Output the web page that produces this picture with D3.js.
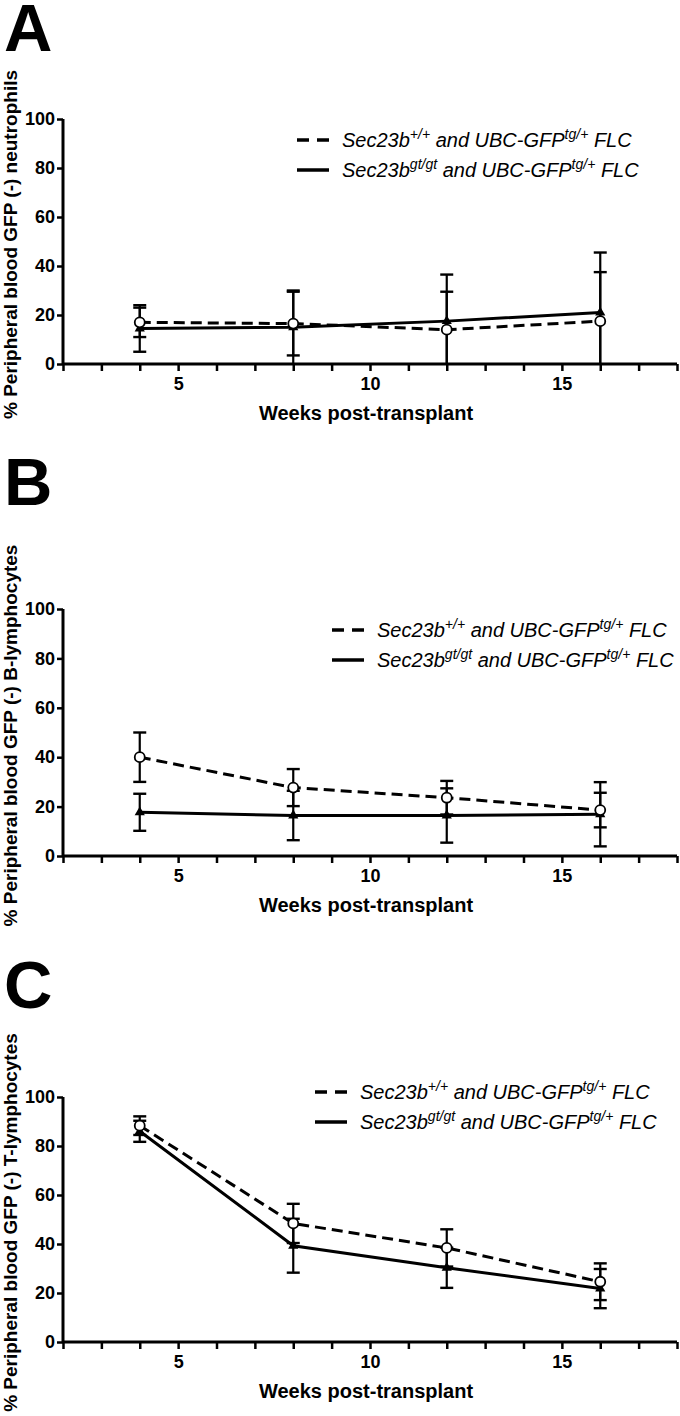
<!DOCTYPE html>
<html>
<head>
<meta charset="utf-8">
<script src="https://cdn.jsdelivr.net/npm/d3@7/dist/d3.min.js"></script>
<style>
  html, body { margin: 0; padding: 0; background: #fff; }
  svg { display: block; }
  text { font-family: "Liberation Sans", Arial, sans-serif; fill: #000; }
</style>
</head>
<body>
<svg id="chart" width="680" height="1416"></svg>
<script>
// ---- data ----
const weeks = [4, 8, 12, 16];
const xTicks = [5, 10, 15];
const yTicks = [0, 20, 40, 60, 80, 100];
const panelLetters = ["A", "B", "C"];
const yTitles = [
  "% Peripheral blood GFP (-) neutrophils",
  "% Peripheral blood GFP (-) B-lymphocytes",
  "% Peripheral blood GFP (-) T-lymphocytes"
];
const xTitle = "Weeks post-transplant";

// Sec23b+/+ (dashed, open circles)
const wtA = [17, 16.5, 14, 17.5];
const wtAErr = [6, 13, 15.5, 20];
const wtB = [40, 27.7, 23.6, 18.6];
const wtBErr = [10, 7.5, 6.8, 7];
const wtC = [88.3, 48.4, 38.4, 24.6];
const wtCErr = [3.8, 8, 7.6, 7.5];

// Sec23b gt/gt (solid, filled triangles)
const gtA = [14.5, 15, 17.5, 21];
const gtAErr = [9.5, 15, 19, 24.5];
const gtB = [17.7, 16.4, 16.4, 16.9];
const gtBErr = [7.5, 10, 11, 13];
const gtC = [86, 39.3, 30.3, 21.8];
const gtCErr = [4.3, 11, 8.2, 8];

const wtSeries = [[wtA, wtAErr], [wtB, wtBErr], [wtC, wtCErr]];
const gtSeries = [[gtA, gtAErr], [gtB, gtBErr], [gtC, gtCErr]];

// ---- layout ----
const panels = [
  { top: 119, bottom: 364, letterY: 51, legY: 140, legX: 297 },
  { top: 609, bottom: 856, letterY: 505, legY: 630, legX: 332 },
  { top: 1097, bottom: 1342, letterY: 1008, legY: 1092, legX: 315 }
];
const xLeft = 63, xRight = 677;

const svg = d3.select("#chart");

panels.forEach((p, i) => {
  const g = svg.append("g");
  const x = d3.scaleLinear().domain([2, 18]).range([xLeft, xRight]);
  const y = d3.scaleLinear().domain([0, 100]).range([p.bottom, p.top]);

  // panel letter
  g.append("text").attr("x", 4).attr("y", p.letterY)
    .attr("font-size", 67).attr("font-weight", "bold").text(panelLetters[i]);

  // x axis
  const xAxis = d3.axisBottom(x).tickValues(d3.range(2, 19, 1))
    .tickSize(7).tickFormat(d => xTicks.includes(d) ? d : "");
  const gx = g.append("g").attr("transform", `translate(0,${p.bottom})`).call(xAxis);
  gx.select(".domain").attr("stroke-width", 3).attr("d", `M${xLeft},0H${xRight}`);
  gx.selectAll(".tick line").attr("stroke-width", 2.5);
  gx.selectAll(".tick text").attr("font-size", 18).attr("font-weight", "bold")
    .attr("font-family", "'Liberation Sans', Arial, sans-serif").attr("dy", "0.9em");

  // y axis
  const yAxis = d3.axisLeft(y).tickValues(yTicks).tickSize(6).tickPadding(2);
  const gy = g.append("g").attr("transform", `translate(${xLeft},0)`).call(yAxis);
  gy.select(".domain").attr("stroke-width", 3).attr("d", `M0,${p.top}V${p.bottom}`);
  gy.selectAll(".tick line").attr("stroke-width", 2.5);
  gy.selectAll(".tick text").attr("font-size", 18).attr("font-weight", "bold")
    .attr("font-family", "'Liberation Sans', Arial, sans-serif");

  // axis titles
  g.append("text").attr("x", (xLeft + xRight) / 2 - 4).attr("y", p.bottom + 56)
    .attr("text-anchor", "middle").attr("font-size", 20).attr("font-weight", "bold")
    .text(xTitle);
  g.append("text")
    .attr("transform", `translate(17,${(p.top + p.bottom) / 2 + 3}) rotate(-90)`)
    .attr("text-anchor", "middle").attr("font-size", 19).attr("font-weight", "bold")
    .text(yTitles[i]);

  const line = d3.line().x((d, j) => x(weeks[j])).y(d => y(d));

  function drawSeries(vals, errs, dashed, marker) {
    // error bars
    weeks.forEach((w, j) => {
      const hi = vals[j] + errs[j];
      const lo = Math.max(0, vals[j] - errs[j]);
      g.append("line").attr("x1", x(w)).attr("x2", x(w))
        .attr("y1", y(hi)).attr("y2", y(lo))
        .attr("stroke", "#000").attr("stroke-width", 2.2);
      g.append("line").attr("x1", x(w) - 6.5).attr("x2", x(w) + 6.5)
        .attr("y1", y(hi)).attr("y2", y(hi))
        .attr("stroke", "#000").attr("stroke-width", 2.4);
      if (vals[j] - errs[j] > 0) {
        g.append("line").attr("x1", x(w) - 6.5).attr("x2", x(w) + 6.5)
          .attr("y1", y(lo)).attr("y2", y(lo))
          .attr("stroke", "#000").attr("stroke-width", 2.4);
      }
    });
    g.append("path").datum(vals).attr("d", line)
      .attr("fill", "none").attr("stroke", "#000").attr("stroke-width", 3)
      .attr("stroke-dasharray", dashed ? "11,6" : null);
    weeks.forEach((w, j) => {
      if (marker === "circle") {
        g.append("circle").attr("cx", x(w)).attr("cy", y(vals[j])).attr("r", 5)
          .attr("fill", "#fff").attr("stroke", "#000").attr("stroke-width", 1.8);
      } else {
        g.append("path").attr("d", d3.symbol(d3.symbolTriangle, 45)())
          .attr("transform", `translate(${x(w)},${y(vals[j])})`).attr("fill", "#000");
      }
    });
  }

  drawSeries(gtSeries[i][0], gtSeries[i][1], false, "triangle");
  drawSeries(wtSeries[i][0], wtSeries[i][1], true, "circle");

  // legend
  const legendRows = [
    { dashed: true, sup1: "+/+" },
    { dashed: false, sup1: "gt/gt" }
  ];
  legendRows.forEach((r, k) => {
    const ly = p.legY + k * 30;
    g.append("line").attr("x1", p.legX).attr("x2", p.legX + 32)
      .attr("y1", ly).attr("y2", ly).attr("stroke", "#000").attr("stroke-width", 3.5)
      .attr("stroke-dasharray", r.dashed ? "12,8" : null);
    const t = g.append("text").attr("x", p.legX + 45).attr("y", ly + 7)
      .attr("font-size", 20).attr("font-style", "italic");
    t.append("tspan").text("Sec23b");
    t.append("tspan").attr("dy", -8).attr("font-size", 14).text(r.sup1);
    t.append("tspan").attr("dy", 8).text(" and UBC-GFP");
    t.append("tspan").attr("dy", -8).attr("font-size", 14).text("tg/+");
    t.append("tspan").attr("dy", 8).text(" FLC");
  });
});
</script>
</body>
</html>
